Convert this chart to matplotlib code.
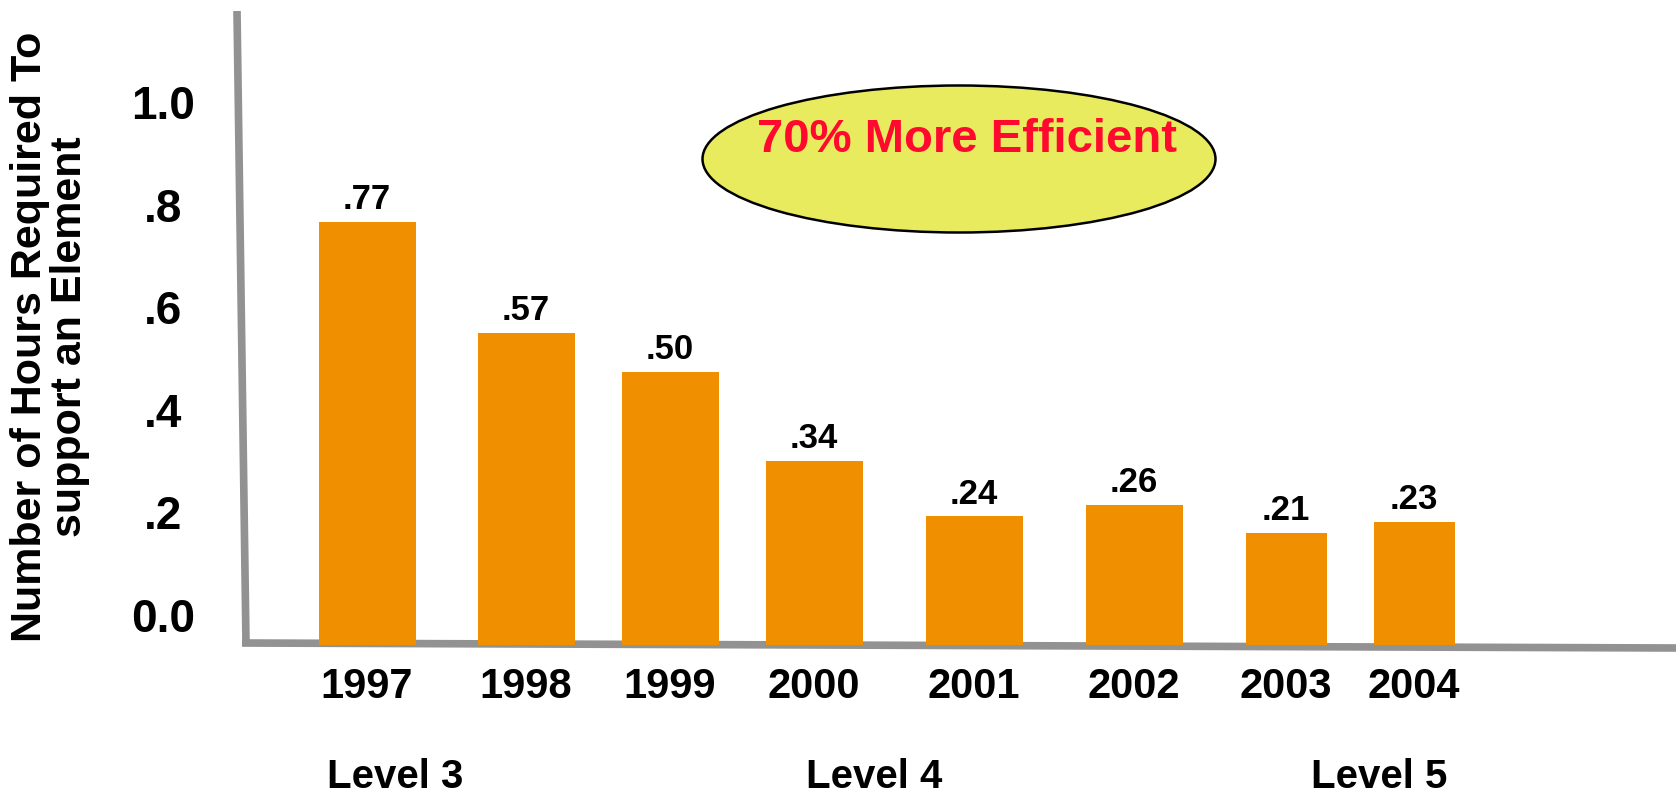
import matplotlib
matplotlib.use("Agg")
import matplotlib.pyplot as plt
from matplotlib.patches import Ellipse

# === data ===
years = ["1997", "1998", "1999", "2000", "2001", "2002", "2003", "2004"]
hours = [0.77, 0.57, 0.50, 0.34, 0.24, 0.26, 0.21, 0.23]
value_labels = [".77", ".57", ".50", ".34", ".24", ".26", ".21", ".23"]
y_ticks = [0.0, 0.2, 0.4, 0.6, 0.8, 1.0]
y_tick_labels = ["0.0", ".2", ".4", ".6", ".8", "1.0"]
levels = ["Level 3", "Level 4", "Level 5"]

# === layout (pixel units of a 1676x794 canvas) ===
W, H = 1676, 794
bar_x = [367, 526, 670, 814, 974, 1134, 1286, 1414]
bar_w = [97, 97, 97, 97, 97, 97, 81, 81]
level_x = [395, 874, 1379]
base_y = 645          # pixel row of the zero line
px_per_unit = 555     # bar scale
tick_zero_y = 615     # the value scale printed down the left side
tick_px_per_unit = 513

orange = "#F09000"
grey = "#929292"

plt.rcParams["font.family"] = ["Liberation Sans", "DejaVu Sans"]
plt.rcParams["font.weight"] = "bold"

fig = plt.figure(figsize=(W / 100, H / 100), dpi=100)

# background layer for the hand-drawn axes, callout and level captions
bg = fig.add_axes([0, 0, 1, 1], zorder=0)
bg.set_xlim(0, W)
bg.set_ylim(H, 0)
bg.axis("off")
bg.plot([237, 246], [11, 643], color=grey, lw=5.5, solid_capstyle="butt")
bg.plot([242, 1676], [643, 648], color=grey, lw=5.5, solid_capstyle="butt")

ell = Ellipse((959, 159), 513, 147, facecolor="#E8EB5E", edgecolor="black", lw=1.8)
bg.add_patch(ell)
bg.text(967, 140, "70% More Efficient", color="#FF0A2E", fontsize=34,
        fontweight="bold", ha="center", va="center")

for lx, lab in zip(level_x, levels):
    bg.text(lx, 777, lab, fontsize=29, fontweight="bold", ha="center", va="center")

bg.text(50, 337, "Number of Hours Required To\nsupport an Element", rotation=90,
        fontsize=31, fontweight="bold", ha="center", va="center",
        linespacing=1.0, multialignment="center")

# value scale on the left
left = 246 / W
tick_ax = fig.add_axes([left, (H - tick_zero_y) / H, 0.01, tick_zero_y / H], zorder=0)
tick_ax.patch.set_alpha(0)
tick_ax.set_ylim(0, tick_zero_y / tick_px_per_unit)
tick_ax.set_xticks([])
for s in tick_ax.spines.values():
    s.set_visible(False)
tick_ax.set_yticks(y_ticks)
tick_ax.set_yticklabels(y_tick_labels, fontsize=33, fontweight="bold")
tick_ax.tick_params(axis="y", length=0, pad=60)
for lab in tick_ax.get_yticklabels():
    lab.set_horizontalalignment("center")

# main bar axes
ax = fig.add_axes([left, (H - base_y) / H, 1 - left, base_y / H], zorder=1)
ax.patch.set_alpha(0)
ax.set_xlim(246, W)
ax.set_ylim(0, base_y / px_per_unit)

ax.bar(bar_x, hours, width=bar_w, color=orange, bottom=-0.008, zorder=3)

for x, v, lab in zip(bar_x, hours, value_labels):
    ax.annotate(lab, (x, v - 0.008), xytext=(0, 16), textcoords="offset points",
                ha="center", va="center", fontsize=25, fontweight="bold")

for s in ax.spines.values():
    s.set_visible(False)

ax.set_xticks(bar_x)
ax.set_xticklabels(years, fontsize=30, fontweight="bold")
ax.tick_params(axis="x", length=0, pad=16)
ax.set_yticks([])

fig.savefig("out.png", dpi=100)
